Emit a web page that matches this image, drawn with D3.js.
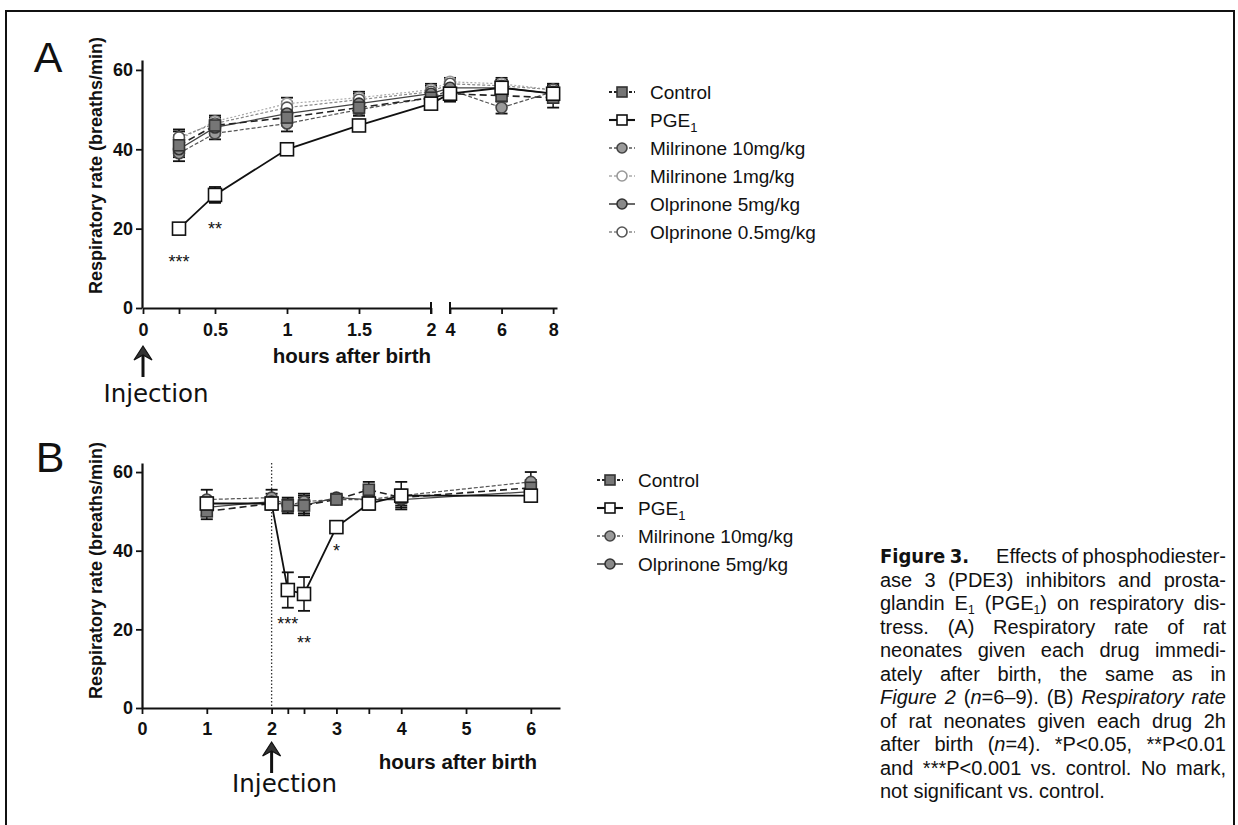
<!DOCTYPE html>
<html><head><meta charset="utf-8">
<script src="https://cdn.jsdelivr.net/npm/d3@7"></script>
<style>body{margin:0;background:#fff}svg{display:block}</style>
</head><body><svg id="c" width="1238" height="825"></svg>
<script>
// ---------------- DATA ----------------
// Panel A: drug given immediately after birth
const timesA = [0.25, 0.5, 1, 1.5, 2, 4, 6, 8];
const controlA = [41, 46, 48, 50.5, 53, 54, 53.5, 53];
const controlErrA = [2.5, 2, 2, 2, 2, 2, 2.5, 2.5];
const pge1A = [20, 28.5, 40, 46, 51.5, 54, 55.5, 54];
const pge1ErrA = [1, 2, 1, 1, 1, 1, 1.5, 1.5];
const mil10A = [39, 44, 46.5, 50, 53, 55, 50.5, 54.5];
const mil10ErrA = [2, 1.5, 2, 1.5, 1.5, 1.5, 1.5, 1.5];
const mil1A = [42.5, 47, 51.5, 53, 55, 57, 56.5, 55];
const mil1ErrA = [2, 1.5, 1.5, 1.5, 1.5, 1, 1.5, 1.5];
const olp5A = [40, 45.5, 49, 51.5, 54, 55.5, 55.5, 54];
const olp5ErrA = [2, 2, 2, 2, 1.5, 1.5, 2, 2];
const olp05A = [43, 46.5, 50.5, 52.5, 54.5, 56.5, 56, 55];
const olp05ErrA = [2, 1.5, 1.5, 1.5, 1.5, 1, 1.5, 1.5];

// Panel B: drug given 2 h after birth
const timesB = [1, 2, 2.25, 2.5, 3, 3.5, 4, 6];
const controlB = [50, 52, 51.5, 51.5, 53, 55.5, 53.5, 56];
const controlErrB = [2, 1.5, 2, 2, 1, 2, 2, 2];
const pge1B = [52, 52, 30, 29, 46, 52, 54, 54];
const pge1ErrB = [1.5, 1.5, 4.5, 4.3, 1.5, 1.5, 1.5, 1.5];
const mil10B = [53, 53.5, 51.5, 52.5, 53, 53, 54, 57.5];
const mil10ErrB = [2.5, 2, 1.5, 2, 1, 2.5, 3.5, 2.5];
const olp5B = [51, 52.5, 51.5, 51.5, 53.5, 53, 53, 55];
const olp5ErrB = [2, 2, 1.5, 2.5, 1, 2.5, 2, 2];

// Axis ticks
const yTicks = [0, 20, 40, 60];
const xTicksA1 = [0, 0.25, 0.5, 1, 1.5, 2];
const xTicksA2 = [4, 6, 8];
const xTicksB = [0, 1, 2, 2.25, 2.5, 3, 3.5, 4, 5, 6];

// Legends
const legendKeysA = ["control", "pge1", "mil10", "mil1", "olp5", "olp05"];
const legendLabelsA = ["Control", "PGE{s:1}", "Milrinone 10mg/kg", "Milrinone 1mg/kg", "Olprinone 5mg/kg", "Olprinone 0.5mg/kg"];
const legendKeysB = ["control", "pge1", "mil10", "olp5"];
const legendLabelsB = ["Control", "PGE{s:1}", "Milrinone 10mg/kg", "Olprinone 5mg/kg"];

// Significance marks: [time, label, value position]
const sigA = [[0.25, "***", 12.5], [0.5, "**", 21]];
const sigB = [[2.25, "***", 22.5], [2.5, "**", 17.5], [3, "*", 41]];

// Caption
const captionLines = [
  "{b:Figure} {b:3.\u2003\u2002}Effects of phosphodiester-",
  "ase 3 (PDE3) inhibitors and prosta-",
  "glandin E{s:1} (PGE{s:1}) on respiratory dis-",
  "tress. (A) Respiratory rate of rat",
  "neonates given each drug immedi-",
  "ately after birth, the same as in",
  "{i:Figure} {i:2} ({i:n}=6\u20139). (B) {i:Respiratory} {i:rate}",
  "of rat neonates given each drug 2h",
  "after birth ({i:n}=4). *P<0.05, **P<0.01",
  "and ***P<0.001 vs. control. No mark,",
  "not significant vs. control."
];

// ---------------- STYLES ----------------
const styles = {
  control: {shape: "square", fill: "#767676", stroke: "#333", line: "#222", width: 1.6, dash: "7,4"},
  pge1:    {shape: "square", fill: "#fff", stroke: "#111", line: "#111", width: 1.8, dash: null},
  mil10:   {shape: "circle", fill: "#9a9a9a", stroke: "#444", line: "#555", width: 1.2, dash: "4,2"},
  mil1:    {shape: "circle", fill: "#fff", stroke: "#999", line: "#aaa", width: 1.2, dash: "2,2"},
  olp5:    {shape: "circle", fill: "#8a8a8a", stroke: "#333", line: "#444", width: 1.3, dash: null},
  olp05:   {shape: "circle", fill: "#fff", stroke: "#555", line: "#888", width: 1.2, dash: "3,2"}
};

const seriesA = [
  {key: "mil1", v: mil1A, e: mil1ErrA},
  {key: "olp05", v: olp05A, e: olp05ErrA},
  {key: "mil10", v: mil10A, e: mil10ErrA},
  {key: "olp5", v: olp5A, e: olp5ErrA},
  {key: "control", v: controlA, e: controlErrA},
  {key: "pge1", v: pge1A, e: pge1ErrA}
];
const seriesB = [
  {key: "mil10", v: mil10B, e: mil10ErrB},
  {key: "olp5", v: olp5B, e: olp5ErrB},
  {key: "control", v: controlB, e: controlErrB},
  {key: "pge1", v: pge1B, e: pge1ErrB}
];

const svg = d3.select("#c");
const SANS = "'Liberation Sans', Arial, sans-serif";

// frame
svg.append("path").attr("d", "M6,825 L6,11 L1234,11 L1234,825")
  .attr("fill", "none").attr("stroke", "#111").attr("stroke-width", 2);

function parseWord(w) {
  return w.split(/(\{[a-z]:[^}]*\})/).filter(s => s.length).map(p => {
    const m = p.match(/^\{([a-z]):(.*)\}$/);
    return m ? {style: m[1], t: m[2]} : {style: "", t: p};
  });
}
function fillRich(textSel, str, subSize, subDy) {
  let prevSub = false;
  parseWord(str).forEach(seg => {
    const ts = textSel.append("tspan").text(seg.t);
    if (seg.style === "i") ts.attr("font-style", "italic");
    if (seg.style === "b") ts.attr("font-family", "'Liberation Sans Narrow','DejaVu Sans Condensed',sans-serif").attr("font-weight", "bold");
    if (seg.style === "s") { ts.attr("font-size", subSize).attr("dy", subDy); prevSub = true; }
    else if (prevSub) { ts.attr("dy", -subDy); prevSub = false; }
  });
}

function marker(g, key, x, y, size) {
  const s = styles[key];
  if (s.shape === "square") {
    g.append("rect").attr("x", x - size / 2).attr("y", y - size / 2).attr("width", size).attr("height", size)
      .attr("fill", s.fill).attr("stroke", s.stroke).attr("stroke-width", 1.6);
  } else {
    g.append("circle").attr("cx", x).attr("cy", y).attr("r", size / 2)
      .attr("fill", s.fill).attr("stroke", s.stroke).attr("stroke-width", 1.6);
  }
}

function drawSeries(g, series, times, xf, yf) {
  const line = d3.line().x(d => xf(d.t)).y(d => yf(d.v));
  series.forEach(s => {
    const st = styles[s.key];
    const pts = times.map((t, i) => ({t, v: s.v[i], e: s.e[i]}));
    g.append("path").attr("d", line(pts)).attr("fill", "none")
      .attr("stroke", st.line).attr("stroke-width", st.width)
      .attr("stroke-dasharray", st.dash);
  });
  series.forEach(s => {
    times.forEach((t, i) => {
      const x = xf(t), y1 = yf(s.v[i] - s.e[i]), y2 = yf(s.v[i] + s.e[i]);
      g.append("line").attr("x1", x).attr("x2", x).attr("y1", y1).attr("y2", y2).attr("stroke", "#111").attr("stroke-width", 1.5);
      [y1, y2].forEach(yy => g.append("line").attr("x1", x - 6).attr("x2", x + 6).attr("y1", yy).attr("y2", yy).attr("stroke", "#111").attr("stroke-width", 1.8));
    });
  });
  series.forEach(s => {
    times.forEach((t, i) => marker(g, s.key, xf(t), yf(s.v[i]), s.key === "pge1" ? 13 : 11));
  });
}

function styleAxis(ax, tickFont) {
  ax.select(".domain").attr("stroke", "#111").attr("stroke-width", 2.2);
  ax.selectAll(".tick line").attr("stroke", "#111").attr("stroke-width", 1.8);
  ax.selectAll(".tick text").attr("font-family", SANS).attr("font-weight", "bold").attr("font-size", tickFont).attr("fill", "#111");
}

function legend(g, keys, labels, x, y0, dy) {
  keys.forEach((k, i) => {
    const y = y0 + i * dy, st = styles[k];
    g.append("line").attr("x1", x - 13).attr("x2", x + 13).attr("y1", y).attr("y2", y)
      .attr("stroke", st.line).attr("stroke-width", st.width + 0.3).attr("stroke-dasharray", st.dash ? "3,2" : null);
    marker(g, k, x, y, 10);
    const t = g.append("text").attr("x", x + 28).attr("y", y + 7).attr("font-family", SANS).attr("font-size", 19).attr("fill", "#111");
    fillRich(t, labels[i], 13, 5);
  });
}

function injection(g, x, yTip, yBot, yText) {
  g.append("line").attr("x1", x).attr("x2", x).attr("y1", yTip + 8).attr("y2", yBot).attr("stroke", "#111").attr("stroke-width", 3);
  g.append("path").attr("d", `M${x},${yTip} L${x - 9},${yTip + 14} L${x},${yTip + 9} L${x + 9},${yTip + 14} Z`)
    .attr("fill", "#333").attr("stroke", "#111").attr("stroke-width", 1.2);
  g.append("text").attr("x", x + 13).attr("y", yText).attr("text-anchor", "middle")
    .attr("font-family", "'DejaVu Sans', sans-serif").attr("font-size", 24.5).attr("fill", "#111").text("Injection");
}

// ---------------- PANEL A ----------------
const gA = svg.append("g");
const yA = d3.scaleLinear().domain([0, 62.5]).range([308, 60]);
const xA1 = d3.scaleLinear().domain([0, 2]).range([143, 431]);
const xA2 = d3.scaleLinear().domain([4, 8.15]).range([450, 557]);
const xA = t => (t <= 2 ? xA1(t) : xA2(t));

gA.append("g").attr("transform", "translate(142,0)")
  .call(d3.axisLeft(yA).tickValues(yTicks).tickSize(6).tickPadding(3).tickSizeOuter(0))
  .call(ax => styleAxis(ax, 18));
gA.append("g").attr("transform", "translate(0,308)")
  .call(d3.axisBottom(xA1).tickValues(xTicksA1).tickFormat(d => d === 0.25 ? "" : String(d)).tickSize(6).tickPadding(9).tickSizeOuter(0))
  .call(ax => styleAxis(ax, 18));
gA.append("g").attr("transform", "translate(0,308)")
  .call(d3.axisBottom(xA2).tickValues(xTicksA2).tickFormat(d3.format("d")).tickSize(6).tickPadding(9).tickSizeOuter(0))
  .call(ax => styleAxis(ax, 18));
// break marks
[xA1(2), xA2(4)].forEach(x => gA.append("line").attr("x1", x).attr("x2", x).attr("y1", 302).attr("y2", 314).attr("stroke", "#111").attr("stroke-width", 2));

drawSeries(gA, seriesA, timesA, xA, yA);
sigA.forEach(([t, s, v]) => gA.append("text").attr("x", xA(t)).attr("y", yA(v) + 10).attr("text-anchor", "middle")
  .attr("font-family", SANS).attr("font-size", 18).attr("fill", "#111").text(s));

gA.append("text").attr("x", 48).attr("y", 72).attr("text-anchor", "middle").attr("font-family", SANS).attr("font-size", 43).attr("fill", "#111").text("A");
gA.append("text").attr("transform", "translate(102,37) rotate(-90)").attr("text-anchor", "end")
  .attr("font-family", SANS).attr("font-weight", "bold").attr("font-size", 18).attr("fill", "#111").text("Respiratory rate (breaths/min)");
gA.append("text").attr("x", 352).attr("y", 363).attr("text-anchor", "middle")
  .attr("font-family", SANS).attr("font-weight", "bold").attr("font-size", 20.5).attr("fill", "#111").text("hours after birth");
injection(gA, xA1(0), 346, 377, 402);
legend(gA, legendKeysA, legendLabelsA, 622, 92, 28);

// ---------------- PANEL B ----------------
const gB = svg.append("g");
const yB = d3.scaleLinear().domain([0, 62.3]).range([708, 463]);
const xB = d3.scaleLinear().domain([0, 6.45]).range([142, 560]);

gB.append("g").attr("transform", "translate(142,0)")
  .call(d3.axisLeft(yB).tickValues(yTicks).tickSize(6).tickPadding(3).tickSizeOuter(0))
  .call(ax => styleAxis(ax, 18));
gB.append("g").attr("transform", "translate(0,708)")
  .call(d3.axisBottom(xB).tickValues(xTicksB).tickFormat(d => Number.isInteger(d) ? d : "").tickSize(6).tickPadding(8).tickSizeOuter(0))
  .call(ax => styleAxis(ax, 18));

gB.append("line").attr("x1", xB(2)).attr("x2", xB(2)).attr("y1", 463).attr("y2", 708)
  .attr("stroke", "#333").attr("stroke-width", 1.3).attr("stroke-dasharray", "1.5,2");

drawSeries(gB, seriesB, timesB, xB, yB);
sigB.forEach(([t, s, v]) => gB.append("text").attr("x", xB(t)).attr("y", yB(v) + 10).attr("text-anchor", "middle")
  .attr("font-family", SANS).attr("font-size", 18).attr("fill", "#111").text(s));

gB.append("text").attr("x", 50).attr("y", 472).attr("text-anchor", "middle").attr("font-family", SANS).attr("font-size", 43).attr("fill", "#111").text("B");
gB.append("text").attr("transform", "translate(102,442) rotate(-90)").attr("text-anchor", "end")
  .attr("font-family", SANS).attr("font-weight", "bold").attr("font-size", 18).attr("fill", "#111").text("Respiratory rate (breaths/min)");
gB.append("text").attr("x", 458).attr("y", 769).attr("text-anchor", "middle")
  .attr("font-family", SANS).attr("font-weight", "bold").attr("font-size", 20.5).attr("fill", "#111").text("hours after birth");
injection(gB, xB(2), 742, 773, 792);
legend(gB, legendKeysB, legendLabelsB, 610, 480, 28);

// ---------------- CAPTION ----------------
const gC = svg.append("g").attr("font-family", SANS).attr("font-size", 20).attr("fill", "#111");
const cx0 = 880, cx1 = 1226, cy0 = 563, cdy = 23.5;
captionLines.forEach((ln, li) => {
  const words = ln.split(" ");
  const y = cy0 + li * cdy;
  const nodes = words.map(w => {
    const t = gC.append("text").attr("x", 0).attr("y", y);
    fillRich(t, w, 12, 3.5);
    return t;
  });
  const widths = nodes.map(n => n.node().getComputedTextLength());
  const total = d3.sum(widths);
  const last = li === captionLines.length - 1;
  const gap = last ? 5.6 : (cx1 - cx0 - total) / (words.length - 1);
  let x = cx0;
  nodes.forEach((n, i) => { n.attr("x", x); x += widths[i] + gap; });
});
</script></body></html>
